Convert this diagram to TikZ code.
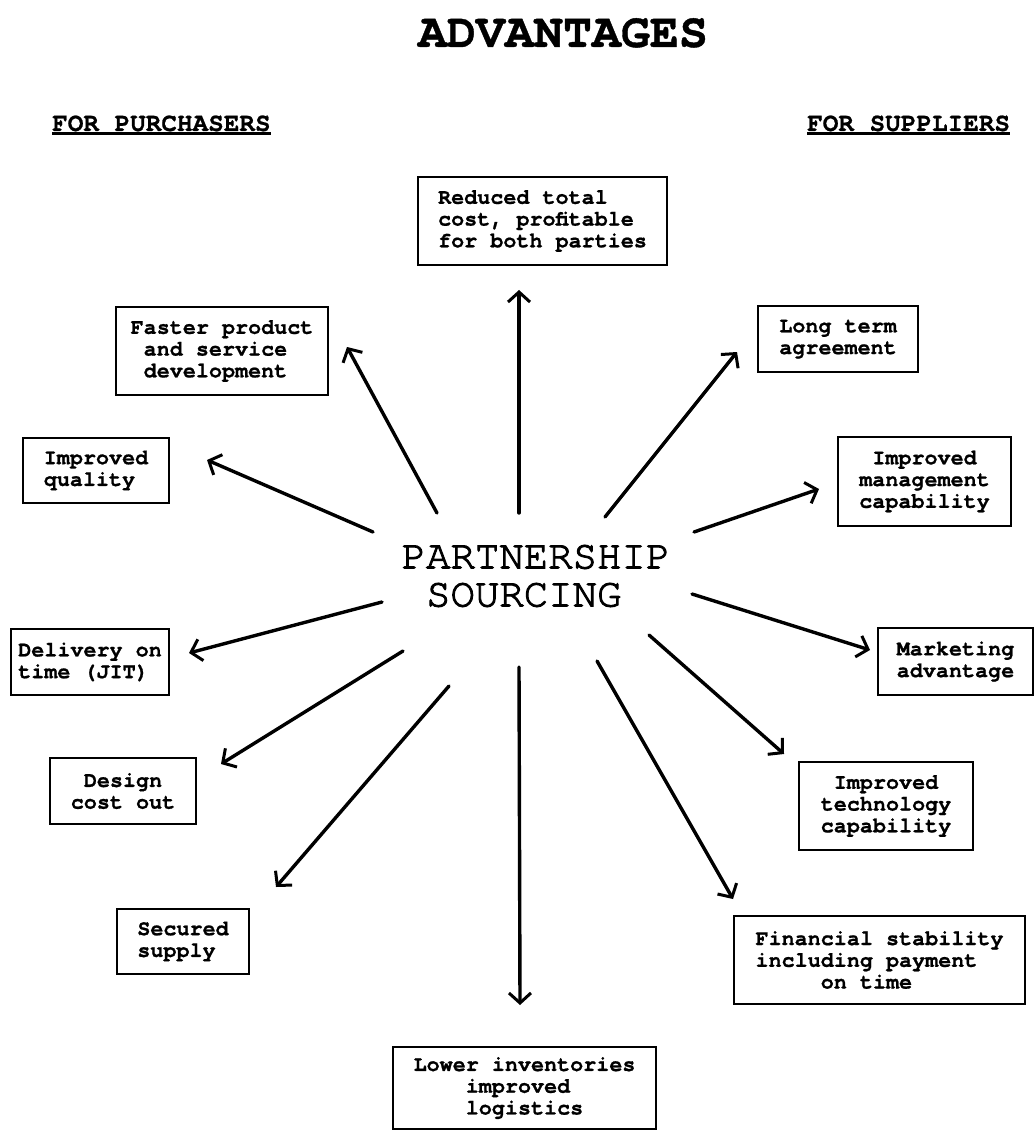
\documentclass[tikz,border=0pt]{standalone}
\usepackage{fontspec}
% Courier-style typewriter faces
\newfontfamily\cour{texgyrecursor}[Extension=.otf, UprightFont=*-regular, BoldFont=*-bold]
\newfontfamily\courheavy{texgyrecursor-bold.otf}[FakeBold=0.8]
\newfontfamily\courmid{texgyrecursor-regular.otf}[FakeBold=2.4]
\usetikzlibrary{arrows.meta}

\tikzset{
  box/.style={draw, line width=2pt, inner sep=0pt, align=left,
    font=\courheavy\fontsize{21.75}{21.75}\selectfont},
  link/.style={line width=3.4pt, line cap=round,
    -{Straight Barb[length=10pt,width=22pt,line width=3pt]}},
  hdr/.style={inner sep=0pt, font=\courheavy\fontsize{26}{26}\selectfont},
  hubtext/.style={inner sep=0pt, align=left, font=\courmid\fontsize{40.7}{38}\selectfont},
}

\begin{document}
\begin{tikzpicture}[x=1pt,y=-1pt]
  \fill[white] (0,0) rectangle (1035,1131);
  \useasboundingbox (0,0) rectangle (1035,1131);

  % headings
  \node[inner sep=0pt, anchor=base, font=\courheavy\fontsize{48.3}{48.3}\selectfont] (title) at (563,47) {ADVANTAGES};
  \node[hdr, anchor=base west] (hp) at (52,131) {FOR PURCHASERS};
  \node[hdr, anchor=base west] (hs) at (807,131) {FOR SUPPLIERS};
  \draw[line width=2.2pt] ([yshift=-2.5pt]hp.base west) -- ([yshift=-2.5pt]hp.base east);
  \draw[line width=2.2pt] ([yshift=-2.5pt]hs.base west) -- ([yshift=-2.5pt]hs.base east);

  % central idea
  \node[hubtext] (hub) at (536,576) {PARTNERSHIP\\\hphantom{X}SOURCING};

  % benefit boxes
  \node[box, minimum width=249pt, minimum height=88pt] (red) at (542.5,221)
    {Reduced total\\cost, profitable\\for both parties};
  \node[box, minimum width=212pt, minimum height=88pt] (fast) at (222,351)
    {Faster product\\\hphantom{x}and service\\\hphantom{x}development};
  \node[box, minimum width=146pt, minimum height=65pt] (qual) at (96,470.5)
    {Improved\\quality};
  \node[box, minimum width=158pt, minimum height=66pt] (deliv) at (90,662)
    {Delivery on\\time (JIT)};
  \node[box, minimum width=146pt, minimum height=66pt] (design) at (123,791)
    {\hphantom{x}Design\\cost out};
  \node[box, minimum width=132pt, minimum height=65pt] (secure) at (183,941.5)
    {Secured\\supply};
  \node[box, minimum width=263pt, minimum height=82pt] (lower) at (524.5,1088)
    {Lower inventories\\\hphantom{xxxx}improved\\\hphantom{xxxx}logistics};
  \node[box, minimum width=291pt, minimum height=88pt] (fin) at (879.5,960)
    {Financial stability\\including payment\\\hphantom{xxxxx}on time};
  \node[box, minimum width=174pt, minimum height=88pt] (tech) at (886,806)
    {\hphantom{x}Improved\\technology\\capability};
  \node[box, minimum width=155pt, minimum height=67pt] (mkt) at (955.5,661.5)
    {Marketing\\advantage};
  \node[box, minimum width=173pt, minimum height=89pt] (mgmt) at (924.5,481.5)
    {\hphantom{x}Improved\\management\\capability};
  \node[box, minimum width=160pt, minimum height=66pt] (long) at (838,339)
    {Long term\\agreement};

  % arrows radiating from the centre
  \draw[link] ([shift={(-17,-63)}]hub.center) -- ([shift={(-23.5,24)}]red.south);
  \draw[link] ([shift={(-99,-63)}]hub.center) -- ([shift={(18,-4)}]fast.east);
  \draw[link] ([shift={(-163,-44)}]hub.center) -- ([shift={(37,-10.5)}]qual.east);
  \draw[link] ([shift={(-154,26)}]hub.center) -- ([shift={(19,-9)}]deliv.east);
  \draw[link] ([shift={(-133,75)}]hub.center) -- ([shift={(24,7)}]design.north east);
  \draw[link] ([shift={(-87,110)}]hub.center) -- ([shift={(26,-21)}]secure.north east);
  \draw[link] ([shift={(-17,91)}]hub.center) -- ([shift={(-4.5,-41)}]lower.north);
  \draw[link] ([shift={(61,85)}]hub.center) -- ([shift={(0,-16)}]fin.north west);
  \draw[link] ([shift={(113,59)}]hub.center) -- ([shift={(-14,-7)}]tech.north west);
  \draw[link] ([shift={(156,18)}]hub.center) -- ([shift={(-7,-11.5)}]mkt.west);
  \draw[link] ([shift={(158,-44)}]hub.center) -- ([shift={(-18,7.5)}]mgmt.west);
  \draw[link] ([shift={(69,-59)}]hub.center) -- ([shift={(-20,13)}]long.west);
\end{tikzpicture}
\end{document}
